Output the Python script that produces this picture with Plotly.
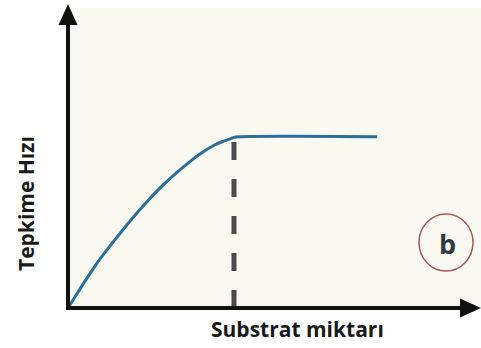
import plotly.graph_objects as go

# Reaction rate vs. substrate amount (saturation curve)
substrat = [0, 0.4, 0.73, 1.15, 1.57, 1.98, 2.4, 2.82, 3.23, 3.65, 3.88, 4.07, 4.19, 7.73]
hiz = [0, 0.88, 1.57, 2.33, 3.05, 3.70, 4.30, 4.82, 5.28, 5.65, 5.79, 5.88, 5.94, 5.95]
doygunluk_x = [4.15, 4.15]
doygunluk_y = [0, 5.9]

W, H = 481, 348
L, R, T, B = 68, 13, 20, 40
pw, ph = W - L - R, H - T - B


def px(xp):
    return (xp - L) / pw


def py(yp):
    return (H - B - yp) / ph


fig = go.Figure()

# vertical dashed guide at the saturation point
fig.add_trace(go.Scatter(
    x=doygunluk_x, y=doygunluk_y, mode="lines",
    line=dict(color="#4a4a4a", width=5, dash="18px,19px"),
    hoverinfo="skip", showlegend=False,
))

# rate curve
fig.add_trace(go.Scatter(
    x=substrat, y=hiz, mode="lines",
    line=dict(color="#2b6f96", width=3, shape="spline", smoothing=0.5),
    hoverinfo="skip", showlegend=False,
))

shapes = [
    # cream panel
    dict(type="rect", xref="paper", yref="paper", x0=0, x1=px(481), y0=0, y1=py(8),
         fillcolor="#f9f8f1", line=dict(width=0), layer="below"),
    # y axis + arrowhead
    dict(type="line", xref="paper", yref="paper", x0=0, x1=0, y0=py(310), y1=py(20),
         line=dict(color="#111", width=4)),
    dict(type="path", xref="paper", yref="paper",
         path=f"M {px(68)} {py(4)} L {px(58.5)} {py(25)} L {px(77.5)} {py(25)} Z",
         fillcolor="#111", line=dict(width=0)),
    # x axis + arrowhead
    dict(type="line", xref="paper", yref="paper", x0=px(66), x1=px(462), y0=0, y1=0,
         line=dict(color="#111", width=4)),
    dict(type="path", xref="paper", yref="paper",
         path=f"M {px(481)} {py(308)} L {px(460)} {py(298.5)} L {px(460)} {py(317.5)} Z",
         fillcolor="#111", line=dict(width=0)),
    # panel label circle
    dict(type="circle", xref="paper", yref="paper",
         x0=px(419), x1=px(473), y0=py(271), y1=py(214),
         line=dict(color="#a65a58", width=1.5)),
]

annotations = [
    dict(text="<b>Tepkime Hızı</b>", xref="paper", yref="paper", x=px(26), y=py(204),
         showarrow=False, textangle=-90, font=dict(family="Open Sans", size=21, color="#1a1a1a"),
         xanchor="center", yanchor="middle"),
    dict(text="<b>Substrat miktarı</b>", xref="paper", yref="paper", x=px(297), y=py(329),
         showarrow=False, font=dict(family="Open Sans", size=21, color="#1a1a1a"),
         xanchor="center", yanchor="middle"),
    dict(text="<b>b</b>", xref="paper", yref="paper", x=px(447), y=py(243),
         showarrow=False, font=dict(family="Open Sans", size=27, color="#2e3a48"),
         xanchor="center", yanchor="middle"),
]

fig.update_layout(
    width=W, height=H,
    margin=dict(l=L, r=R, t=T, b=B),
    paper_bgcolor="white", plot_bgcolor="rgba(0,0,0,0)",
    xaxis=dict(range=[0, 10], visible=False, fixedrange=True),
    yaxis=dict(range=[0, 10], visible=False, fixedrange=True),
    shapes=shapes, annotations=annotations,
)

fig.write_html("out.html")
